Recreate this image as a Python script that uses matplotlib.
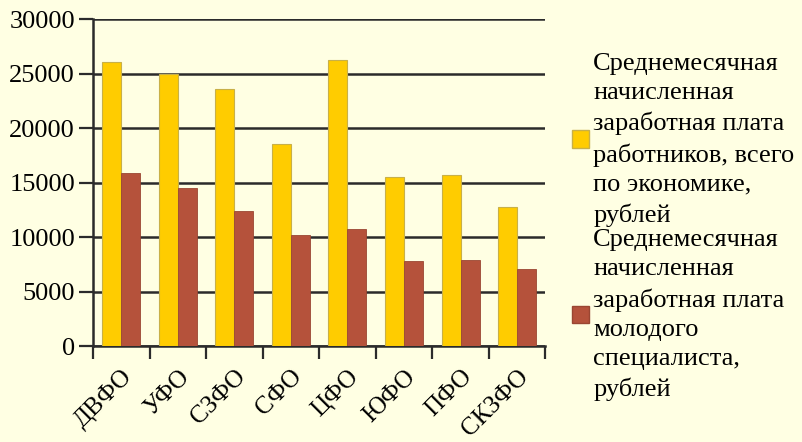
import matplotlib.pyplot as plt
import numpy as np
from matplotlib.patches import Patch

# Федеральные округа и зарплаты (рублей)
okruga = ['ДВФО', 'УФО', 'СЗФО', 'СФО', 'ЦФО', 'ЮФО', 'ПФО', 'СКЗФО']
zarplata_vsego = [26100, 25000, 23600, 18500, 26200, 15500, 15700, 12800]
zarplata_molodoy = [15900, 14500, 12400, 10200, 10700, 7800, 7900, 7100]

label_vsego = 'Среднемесячная\nначисленная\nзаработная плата\nработников, всего\nпо экономике,\nрублей'
label_molodoy = 'Среднемесячная\nначисленная\nзаработная плата\nмолодого\nспециалиста,\nрублей'

bg = '#FFFFE3'
plt.rcParams['font.family'] = 'Liberation Serif'

fig = plt.figure(figsize=(8.02, 4.42), dpi=100, facecolor=bg)
ax = fig.add_axes([0.116, 0.217, 0.564, 0.740], facecolor=bg)

barWidth = 0.336
r = np.arange(len(okruga))
ax.bar(r - barWidth / 2, zarplata_vsego, width=barWidth, color='#FFCC00',
       edgecolor='#C8B048', linewidth=0.8, zorder=3)
ax.bar(r + barWidth / 2, zarplata_molodoy, width=barWidth, color='#B5523B',
       edgecolor='#9A4632', linewidth=0.6, zorder=3)

ax.set_xlim(-0.5, len(okruga) - 0.5)
ax.set_ylim(0, 30000)
ax.set_yticks(range(0, 30001, 5000))
ax.yaxis.grid(True, color='#2b2b2b', linewidth=1.8, zorder=1)
ax.tick_params(axis='y', length=10, width=1.6, color='#2b2b2b', pad=3, labelsize=19)

ax.set_xticks(r)
ax.set_xticklabels(okruga, rotation=45, ha='right', rotation_mode='anchor', fontsize=18)
ax.tick_params(axis='x', which='major', length=0, pad=14)
ax.set_xticks(np.arange(-0.5, len(okruga)), minor=True)
ax.tick_params(axis='x', which='minor', length=9, width=1.6, color='#2b2b2b')

for s in ['top', 'right']:
    ax.spines[s].set_visible(False)
for s in ['left', 'bottom']:
    ax.spines[s].set_color('#2b2b2b')
    ax.spines[s].set_linewidth(1.8)

handles = [Patch(facecolor='#FFCC00', edgecolor='#C8B048'),
           Patch(facecolor='#B5523B', edgecolor='#9A4632')]
leg = fig.legend(handles, [label_vsego, label_molodoy], loc='upper left',
                 bbox_to_anchor=(572 / 802, 1 - 53 / 442), frameon=False, fontsize=19,
                 handlelength=0.65, handleheight=0.65, handletextpad=0.15,
                 labelspacing=0.08, borderpad=0, borderaxespad=0)
for t in leg.get_texts():
    t.set_linespacing(1.42)

plt.savefig('out.png', dpi=100, facecolor=bg)
